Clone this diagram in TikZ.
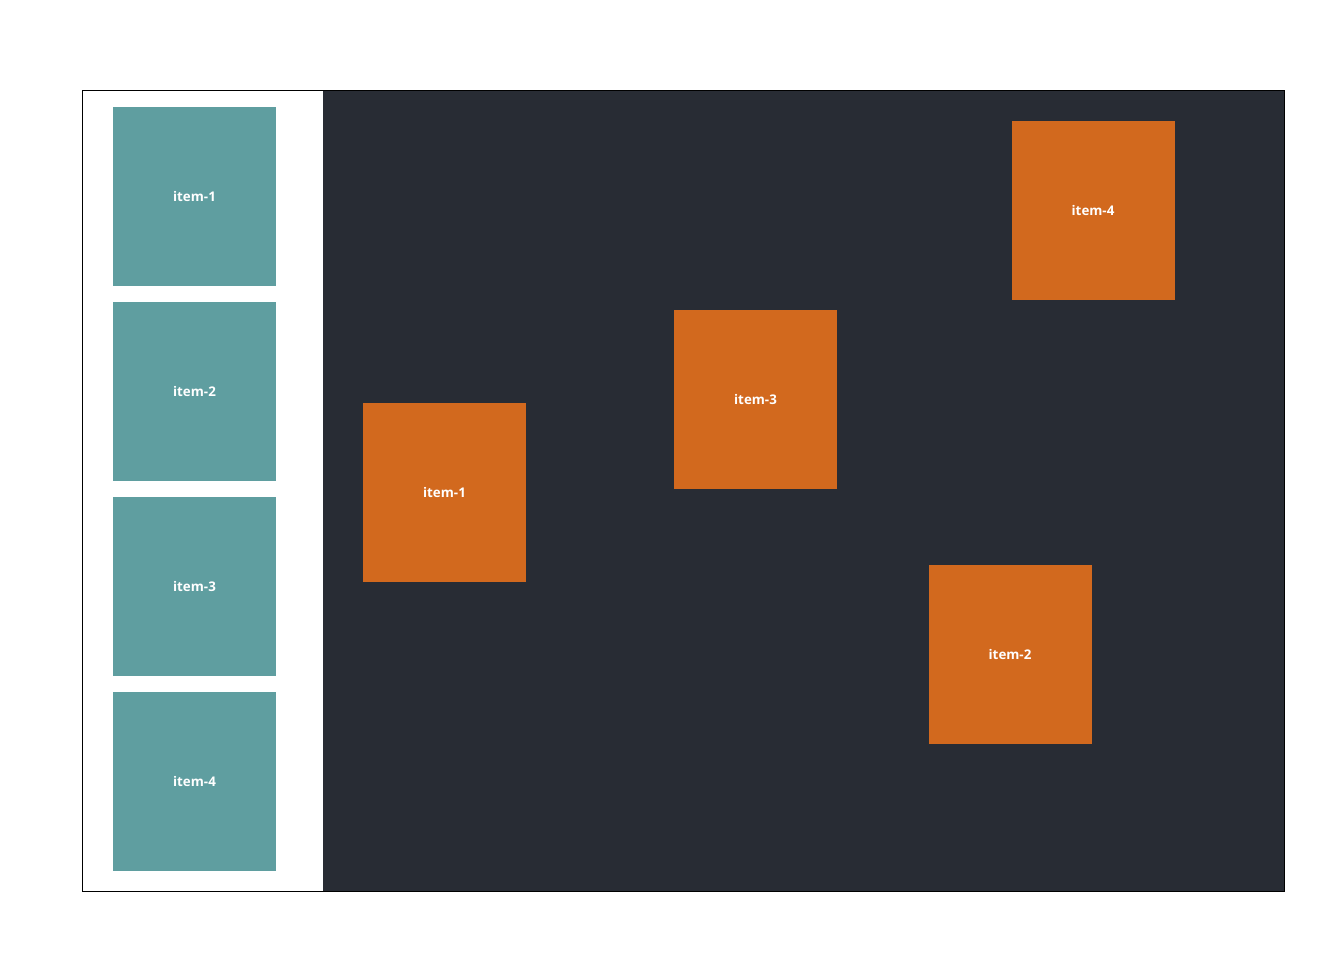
\documentclass[tikz,border=0pt]{standalone}
\usepackage{fontspec}
\setmainfont{Open Sans}
\definecolor{panelbg}{HTML}{282C34}
\definecolor{srcitem}{HTML}{5F9EA0}
\definecolor{dropitem}{HTML}{D2691E}
\begin{document}
\begin{tikzpicture}[x=0.75pt, y=-0.75pt]
        \useasboundingbox (0, 0) rectangle (1344, 954);
        \fill [panelbg] (323, 90) rectangle (1284, 891);
        \draw [thin] (82, 90) rectangle (1284, 891);
        \begin{scope}[every node/.style={minimum width=122.25pt, minimum height=134.25pt, inner sep=0,
                text=white, font=\fontsize{10pt}{12pt}\selectfont\bfseries}]
            \foreach \i/\y in {1/196.5, 2/391.5, 3/586.5, 4/781.5}
                \node [fill=srcitem] (src\i) at (194.5, \y) {item-\i};
            \node [fill=dropitem] (drop1) at (444.5, 492.5) {item-1};
            \node [fill=dropitem] (drop3) at (755.5, 399.5) {item-3};
            \node [fill=dropitem] (drop4) at (1093, 210.5) {item-4};
            \node [fill=dropitem] (drop2) at (1010, 654.5) {item-2};
        \end{scope}
    \end{tikzpicture}
\end{document}
